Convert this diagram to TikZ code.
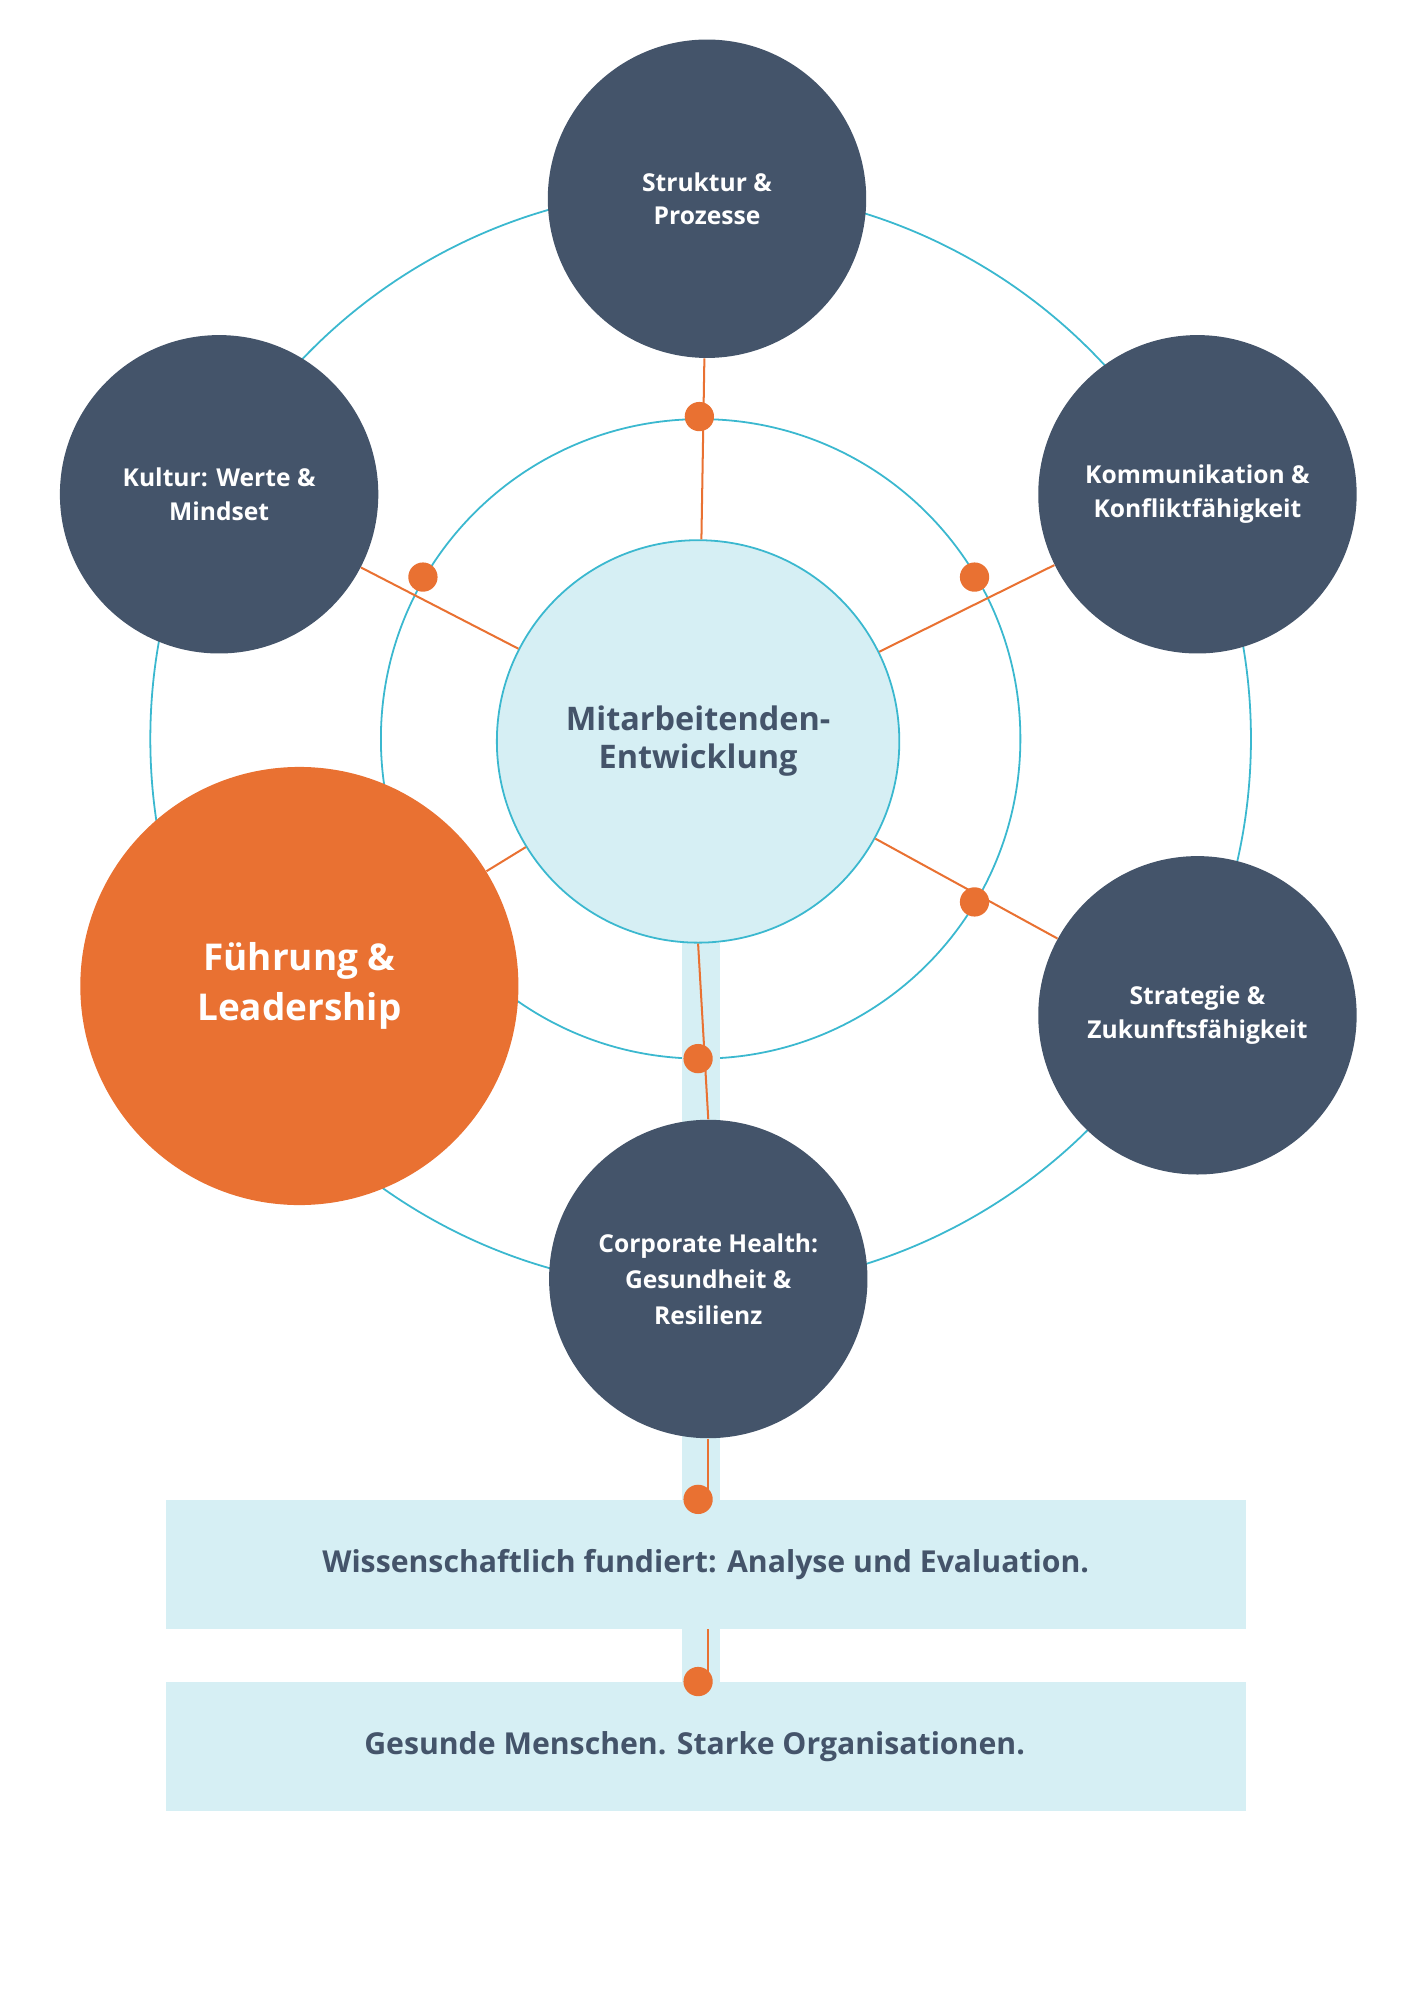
\documentclass[tikz,border=0pt]{standalone}
\usepackage{fontspec}
\setmainfont{Open Sans}
\definecolor{navy}{HTML}{44546A}
\definecolor{orng}{HTML}{E97132}
\definecolor{lblue}{HTML}{D6EFF4}
\definecolor{cyanl}{HTML}{3BB8CF}
\begin{document}
\begin{tikzpicture}[x=0.02cm,y=-0.02cm,
  ring/.style={draw=cyanl,line width=0.8pt},
  sat/.style={circle,fill=navy,minimum size=5cm,inner sep=0pt,text=white,font=\bfseries\fontsize{11}{15}\selectfont,align=center},
  spoke/.style={draw=orng,line width=0.9pt},
  dotn/.style={circle,fill=orng,minimum size=0.46cm,inner sep=0pt},
  box/.style={fill=lblue,minimum width=16.96cm,minimum height=2.02cm,inner sep=0pt,text=navy,font=\bfseries\fontsize{13.5}{16}\selectfont}]
\useasboundingbox (0,0) rectangle (1110,1570);
\coordinate (c) at (550,580);
\draw[ring] (c) circle (432);
\draw[ring] (c) circle (251);
\fill[lblue] (535,740) rectangle (565,1178);
\fill[lblue] (535,1279) rectangle (565,1320);
\node[circle,fill=lblue,draw=cyanl,line width=0.8pt,minimum size=6.32cm,inner sep=0pt,text=navy,font=\bfseries\fontsize{14.5}{17}\selectfont,align=center] (m) at (548,582) {Mitarbeitenden-\\Entwicklung};
\node[sat] (s1) at (555,156) {Struktur \&\\Prozesse};
\node[sat] (s2) at (172,388) {Kultur: Werte \&\\Mindset};
\node[sat] (s3) at (940,388) {Kommunikation \&\\Konfliktfähigkeit};
\node[sat] (s4) at (940,797) {Strategie \&\\Zukunftsfähigkeit};
\node[sat,font=\bfseries\fontsize{11}{16}\selectfont] (s5) at (556,1004) {Corporate Health:\\Gesundheit \&\\Resilienz};
\node[box] (b1) at (554,1228) {Wissenschaftlich fundiert: Analyse und Evaluation.};
\node[box] (b2) at (554,1371) {\hspace*{-0.35cm}Gesunde Menschen. Starke Organisationen.};
\draw[spoke] (m) -- (s1);
\draw[spoke] (m) -- (s2);
\draw[spoke] (m) -- (s3);
\draw[spoke] (m) -- (s4);
\draw[spoke] (m.south) -- (s5.north);
\draw[spoke] (s5.south) -- (b1.north -| s5.south);
\draw[spoke] (b1.south -| s5.south) -- (b2.north -| s5.south);
\node[circle,fill=orng,minimum size=6.88cm,inner sep=0pt,text=white,font=\bfseries\fontsize{16.5}{22}\selectfont,align=center] (f) at (235,774) {Führung \&\\Leadership};
\draw[spoke] (m) -- (f);
\node[dotn] (d1) at (549,327) {};
\node[dotn] (d2) at (332,453) {};
\node[dotn] (d3) at (765,453) {};
\node[dotn] (d4) at (765,708) {};
\node[dotn] (d5) at (548,831) {};
\node[dotn] (d6) at (548,1177) {};
\node[dotn] (d7) at (548,1320) {};
\end{tikzpicture}
\end{document}
